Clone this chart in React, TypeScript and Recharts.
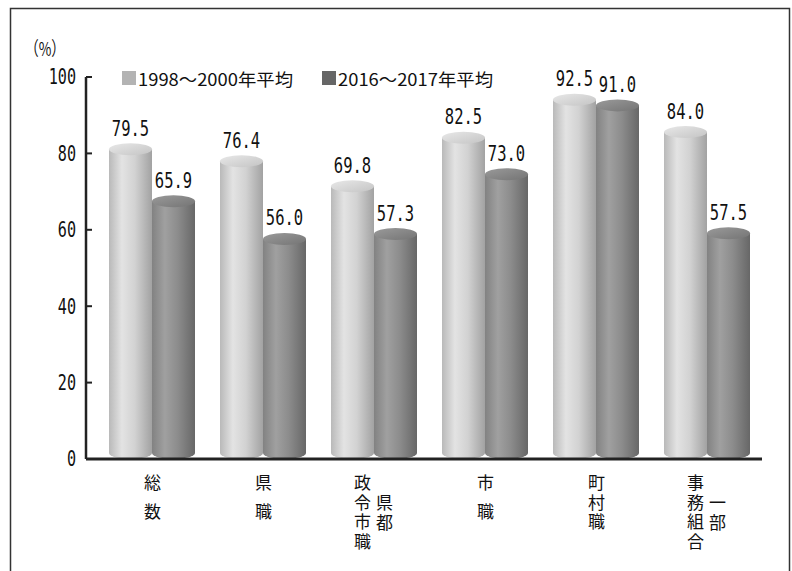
import { BarChart, Bar, XAxis, YAxis, LabelList } from 'recharts';

// 組織率の比較（%）
const categories = ['総数', '県職', '県都政令市職', '市職', '町村職', '一部事務組合'];
// vertical label columns, listed right-to-left as they are read
const labelColumns = [
  ['総数'],
  ['県職'],
  ['県都', '政令市職'],
  ['市職'],
  ['町村職'],
  ['一部', '事務組合'],
];
const seriesNames = ['1998～2000年平均', '2016～2017年平均'];
const period1 = [79.5, 76.4, 69.8, 82.5, 92.5, 84.0];
const period2 = [65.9, 56.0, 57.3, 73.0, 91.0, 57.5];
const yTicks = [0, 20, 40, 60, 80, 100];

const data = categories.map((name, i) => ({ name, p1: period1[i], p2: period2[i] }));

const W = 792;
const H = 571;
const PLOT_LEFT = 86;
const AXIS_Y = 459;
const DEPTH = 6; // upward shift of the 3D cylinders
const FONT_JP = '"Noto Sans CJK JP", "Noto Sans", sans-serif';
const FONT_NUM = '"DejaVu Sans Mono", monospace';
const LEGEND_COLORS = ['#b3b3b3', '#666666'];
const JP_SIZE = 17;
const NARROW = 0.74; // horizontal squeeze for the numeric labels

function Cylinder(props: any) {
  const { x, y, width, height, gradId, topId } = props;
  if (height == null || width == null) return null;
  const rx = width / 2;
  const ry = 6;
  const top = y - DEPTH;
  const bottom = y + height - DEPTH;
  const d = `M${x},${top} L${x},${bottom} A${rx},${ry} 0 0 0 ${x + width},${bottom} L${x + width},${top} Z`;
  return (
    <g>
      <path d={d} fill={`url(#${gradId})`} />
      <ellipse cx={x + rx} cy={top} rx={rx} ry={ry} fill={`url(#${topId})`} />
    </g>
  );
}

function ValueLabel(props: any) {
  const { x, y, width, value } = props;
  const s = Number(value).toFixed(1);
  return (
    <text
      transform={`translate(${x + width / 2},${y - 27}) scale(${NARROW},1)`}
      textAnchor="middle"
      dominantBaseline="central"
      fontFamily={FONT_NUM}
      fontSize={21}
      fill="#111"
    >
      {s}
    </text>
  );
}

function YTick(props: any) {
  const { y, payload } = props;
  const s = String(payload.value);
  return (
    <g>
      {payload.value !== 0 && (
        <line x1={PLOT_LEFT} x2={PLOT_LEFT + 6} y1={y} y2={y} stroke="#222" strokeWidth={2} />
      )}
      <text
        transform={`translate(76,${y}) scale(0.72,1)`}
        textAnchor="end"
        dominantBaseline="central"
        fontFamily={FONT_NUM}
        fontSize={21}
        fill="#111"
      >
        {s}
      </text>
    </g>
  );
}

function XTick(props: any) {
  const { x, index } = props;
  const cols = labelColumns[index] || [];
  const n = cols.length;
  return (
    <g>
      {cols.map((col, c) => {
        // columns are read right-to-left
        const cx = n === 1 ? x + 1 : x - 11 + (n - 1 - c) * 22;
        const wide = n === 1 && Array.from(col).length === 2;
        const gap = wide ? 12 : 2.5;
        const top = AXIS_Y + 24 - JP_SIZE / 2 + (n > 1 && c === 0 ? 20 : 0);
        return (
          <text
            key={c}
            x={cx}
            y={top}
            style={{ writingMode: 'vertical-rl', letterSpacing: gap }}
            fontFamily={FONT_JP}
            fontSize={JP_SIZE}
            fill="#111"
          >
            {col}
          </text>
        );
      })}
    </g>
  );
}

export default function App() {
  return (
    <div style={{ position: 'absolute', left: 0, top: 0, width: W, height: H, background: '#fff', overflow: 'hidden' }}>
      <svg width={W} height={H} style={{ position: 'absolute', left: 0, top: 0 }}>
        <rect x={10.5} y={8.5} width={779} height={600} fill="none" stroke="#333" strokeWidth={1.5} />
        <text
          x={25}
          y={47}
          dominantBaseline="central"
          fontFamily={FONT_JP}
          fontSize={19}
          fill="#111"
          textLength={40}
          lengthAdjust="spacingAndGlyphs"
        >
          （%）
        </text>
        {seriesNames.map((name, i) => {
          const lx = i === 0 ? 122 : 322;
          return (
            <g key={name}>
              <rect x={lx} y={71} width={14} height={14} fill={LEGEND_COLORS[i]} />
              <text
                x={lx + 16}
                y={78}
                dominantBaseline="central"
                fontFamily={FONT_JP}
                fontSize={17}
                fill="#111"
                textLength={155}
                lengthAdjust="spacingAndGlyphs"
              >
                {name}
              </text>
            </g>
          );
        })}
      </svg>
      <div style={{ position: 'absolute', left: 0, top: 0 }}>
        <BarChart
          width={W}
          height={H}
          data={data}
          margin={{ top: 77, right: 30, bottom: 12, left: 26 }}
          barGap={0}
          barSize={43}
        >
          <defs>
            <linearGradient id="bodyLight" x1="0" y1="0" x2="1" y2="0">
              <stop offset="0%" stopColor="#b9b9b9" />
              <stop offset="30%" stopColor="#e3e3e3" />
              <stop offset="60%" stopColor="#d2d2d2" />
              <stop offset="100%" stopColor="#a2a2a2" />
            </linearGradient>
            <linearGradient id="topLight" x1="0" y1="0" x2="1" y2="1">
              <stop offset="0%" stopColor="#e8e8e8" />
              <stop offset="100%" stopColor="#c4c4c4" />
            </linearGradient>
            <linearGradient id="bodyDark" x1="0" y1="0" x2="1" y2="0">
              <stop offset="0%" stopColor="#828282" />
              <stop offset="30%" stopColor="#a0a0a0" />
              <stop offset="60%" stopColor="#8c8c8c" />
              <stop offset="100%" stopColor="#676767" />
            </linearGradient>
            <linearGradient id="topDark" x1="0" y1="0" x2="1" y2="1">
              <stop offset="0%" stopColor="#9a9a9a" />
              <stop offset="100%" stopColor="#747474" />
            </linearGradient>
          </defs>
          <XAxis
            dataKey="name"
            height={100}
            interval={0}
            padding={{ left: 10, right: 0 }}
            axisLine={{ stroke: '#222', strokeWidth: 3 }}
            tickLine={false}
            tick={<XTick />}
          />
          <YAxis
            width={60}
            domain={[0, 100]}
            ticks={yTicks}
            interval={0}
            axisLine={{ stroke: '#222', strokeWidth: 2.5 }}
            tickLine={false}
            tick={<YTick />}
          />
          <Bar
            dataKey="p1"
            name={seriesNames[0]}
            isAnimationActive={false}
            shape={(p: any) => <Cylinder {...p} gradId="bodyLight" topId="topLight" />}
          >
            <LabelList dataKey="p1" content={<ValueLabel />} />
          </Bar>
          <Bar
            dataKey="p2"
            name={seriesNames[1]}
            isAnimationActive={false}
            shape={(p: any) => <Cylinder {...p} gradId="bodyDark" topId="topDark" />}
          >
            <LabelList dataKey="p2" content={<ValueLabel />} />
          </Bar>
        </BarChart>
      </div>
    </div>
  );
}
